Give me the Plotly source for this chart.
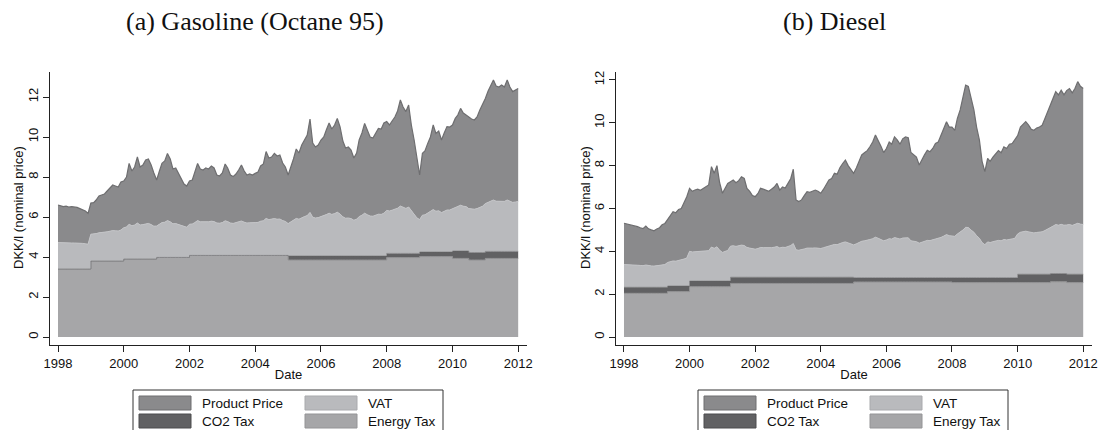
import pandas as pd
import plotly.graph_objects as go

W, H = 1098, 430

# monthly observations, Jan 1998 .. Jan 2012
dates = pd.date_range("1998-01-01", "2012-01-01", freq="MS")

# ---- Gasoline (Octane 95), DKK/l ----
gas_total = [
    6.60, 6.55, 6.52, 6.54, 6.50, 6.52, 6.50, 6.48, 6.42, 6.38, 6.30, 6.18,
    6.70, 6.72, 6.85, 7.05, 7.10, 7.15, 7.30, 7.45, 7.60, 7.55, 7.50, 7.75,
    7.80, 8.00, 8.68, 8.30, 8.50, 9.00, 8.50, 8.60, 8.85, 8.90, 8.60, 8.20,
    7.85, 8.30, 8.68, 8.80, 9.18, 8.90, 8.40, 8.45, 8.20, 7.90, 7.65, 7.55,
    7.80, 7.85, 8.20, 8.68, 8.40, 8.35, 8.45, 8.40, 8.55, 8.45, 8.10, 8.05,
    8.20, 8.65, 8.45, 8.10, 8.02, 8.15, 8.35, 8.60, 8.30, 8.10, 8.15, 8.10,
    8.18, 8.25, 8.55, 8.65, 9.27, 8.95, 9.00, 9.18, 9.05, 9.10, 8.70, 8.50,
    8.10, 8.50, 8.90, 9.40, 9.20, 9.60, 9.85, 10.10, 10.90, 9.70, 9.50, 9.60,
    9.85, 10.00, 10.35, 10.70, 10.40, 10.60, 10.93, 10.50, 9.80, 9.45, 9.50, 9.35,
    8.95, 9.20, 9.85, 10.20, 10.68, 10.30, 10.00, 9.95, 10.20, 10.43, 10.40, 10.70,
    10.77, 10.60, 10.80, 11.00, 11.30, 11.85, 11.50, 11.27, 11.60, 10.60, 9.85, 8.90,
    8.10, 9.18, 9.30, 9.68, 10.00, 10.60, 10.18, 10.30, 9.85, 10.20, 10.52, 10.50,
    10.60, 10.93, 11.10, 11.43, 11.20, 11.10, 11.00, 10.90, 10.85, 11.00, 11.35, 11.60,
    11.93, 12.30, 12.60, 12.85, 12.55, 12.50, 12.60, 12.50, 12.85, 12.50, 12.27, 12.35,
    12.43,
]
# top of the VAT band (taxes + VAT)
gas_vat_top = [
    4.72, 4.71, 4.70, 4.71, 4.70, 4.70, 4.70, 4.70, 4.68, 4.68, 4.66, 4.64,
    5.14, 5.14, 5.17, 5.21, 5.22, 5.23, 5.26, 5.29, 5.32, 5.31, 5.30, 5.35,
    5.46, 5.50, 5.64, 5.56, 5.60, 5.70, 5.60, 5.62, 5.67, 5.68, 5.62, 5.54,
    5.55, 5.64, 5.72, 5.74, 5.82, 5.76, 5.66, 5.67, 5.62, 5.56, 5.51, 5.49,
    5.64, 5.65, 5.72, 5.82, 5.76, 5.75, 5.77, 5.76, 5.79, 5.77, 5.70, 5.69,
    5.72, 5.81, 5.77, 5.70, 5.68, 5.71, 5.75, 5.80, 5.74, 5.70, 5.71, 5.70,
    5.72, 5.73, 5.79, 5.81, 5.93, 5.87, 5.88, 5.92, 5.89, 5.90, 5.82, 5.78,
    5.67, 5.75, 5.83, 5.93, 5.89, 5.97, 6.02, 6.07, 6.23, 5.99, 5.95, 5.97,
    6.02, 6.05, 6.12, 6.19, 6.13, 6.17, 6.24, 6.15, 6.01, 5.94, 5.95, 5.92,
    5.84, 5.89, 6.02, 6.09, 6.19, 6.11, 6.05, 6.04, 6.09, 6.14, 6.13, 6.19,
    6.33, 6.30, 6.34, 6.38, 6.44, 6.55, 6.48, 6.43, 6.50, 6.30, 6.15, 5.96,
    5.87, 6.09, 6.11, 6.19, 6.25, 6.37, 6.29, 6.31, 6.22, 6.29, 6.35, 6.35,
    6.42, 6.49, 6.52, 6.59, 6.54, 6.52, 6.42, 6.40, 6.39, 6.42, 6.49, 6.54,
    6.67, 6.74, 6.80, 6.85, 6.79, 6.78, 6.80, 6.78, 6.85, 6.78, 6.73, 6.75,
    6.77,
]
# tax levels change in steps: (from month, level)
gas_energy_steps = [("1998-01", 3.40), ("1999-01", 3.80), ("2000-01", 3.90), ("2001-01", 3.98),
                    ("2002-01", 4.08), ("2005-01", 3.85), ("2008-01", 3.97), ("2009-01", 4.02),
                    ("2010-01", 3.93), ("2010-07", 3.85), ("2011-01", 3.93)]
gas_co2_top_steps = [("1998-01", 3.40), ("1999-01", 3.80), ("2000-01", 3.90), ("2001-01", 3.98),
                     ("2002-01", 4.08), ("2005-01", 4.05), ("2008-01", 4.18), ("2009-01", 4.25),
                     ("2010-01", 4.30), ("2010-07", 4.22), ("2011-01", 4.28)]

# ---- Diesel, DKK/l ----
dsl_total = [
    5.31, 5.28, 5.25, 5.22, 5.20, 5.15, 5.10, 5.06, 5.18, 5.05, 5.00, 4.96,
    5.04, 5.10, 5.24, 5.30, 5.48, 5.65, 5.85, 5.80, 5.95, 6.00, 6.30, 6.55,
    6.94, 6.80, 6.86, 6.90, 6.85, 6.94, 7.00, 7.10, 7.95, 7.64, 8.00, 7.20,
    6.71, 6.95, 7.17, 7.25, 7.33, 7.20, 7.30, 7.48, 7.40, 6.94, 6.80, 6.60,
    6.55, 6.70, 6.94, 6.90, 6.85, 6.80, 6.90, 7.00, 7.17, 6.86, 7.00, 6.95,
    7.17, 7.40, 7.83, 6.40, 6.32, 6.40, 6.60, 6.78, 6.75, 6.80, 6.86, 6.80,
    6.71, 6.90, 7.10, 7.33, 7.40, 7.64, 7.60, 7.90, 8.10, 8.26, 8.00, 7.80,
    7.64, 7.90, 8.20, 8.50, 8.60, 8.70, 8.88, 9.10, 9.43, 9.20, 8.90, 8.61,
    8.80, 9.10, 9.00, 9.34, 9.20, 9.00, 9.25, 9.34, 9.30, 8.61, 8.50, 8.40,
    8.03, 8.30, 8.50, 8.72, 8.65, 8.80, 9.03, 9.10, 9.40, 9.70, 10.05, 9.80,
    9.80, 9.65, 10.20, 10.60, 11.10, 11.76, 11.70, 11.10, 10.60, 9.80, 9.20, 8.20,
    7.72, 8.34, 8.20, 8.40, 8.56, 8.70, 8.60, 8.88, 8.80, 9.00, 9.03, 9.20,
    9.40, 9.80, 9.90, 10.05, 9.90, 9.70, 9.65, 9.75, 9.80, 9.88, 10.20, 10.50,
    10.83, 11.10, 11.45, 11.30, 11.52, 11.30, 11.50, 11.60, 11.40, 11.60, 11.92, 11.70,
    11.60,
]
dsl_vat_top = [
    3.38, 3.38, 3.37, 3.36, 3.36, 3.35, 3.34, 3.33, 3.36, 3.33, 3.32, 3.31,
    3.33, 3.34, 3.37, 3.38, 3.48, 3.51, 3.55, 3.54, 3.57, 3.58, 3.64, 3.69,
    4.00, 3.97, 3.98, 3.99, 3.98, 4.00, 4.01, 4.03, 4.20, 4.14, 4.21, 4.05,
    3.95, 4.00, 4.04, 4.24, 4.26, 4.23, 4.25, 4.29, 4.27, 4.18, 4.15, 4.11,
    4.10, 4.13, 4.18, 4.17, 4.16, 4.15, 4.17, 4.19, 4.22, 4.16, 4.19, 4.18,
    4.22, 4.27, 4.36, 4.07, 4.05, 4.07, 4.11, 4.15, 4.14, 4.15, 4.16, 4.15,
    4.13, 4.17, 4.21, 4.26, 4.27, 4.32, 4.31, 4.37, 4.41, 4.44, 4.39, 4.35,
    4.30, 4.35, 4.41, 4.47, 4.49, 4.51, 4.55, 4.59, 4.66, 4.61, 4.55, 4.49,
    4.53, 4.59, 4.57, 4.64, 4.61, 4.57, 4.62, 4.64, 4.63, 4.49, 4.47, 4.45,
    4.38, 4.43, 4.47, 4.51, 4.50, 4.53, 4.58, 4.59, 4.65, 4.71, 4.78, 4.73,
    4.73, 4.70, 4.81, 4.89, 4.99, 5.12, 5.11, 4.99, 4.89, 4.73, 4.61, 4.41,
    4.31, 4.44, 4.41, 4.45, 4.48, 4.51, 4.49, 4.55, 4.53, 4.57, 4.58, 4.61,
    4.81, 4.89, 4.91, 4.94, 4.91, 4.87, 4.86, 4.88, 4.89, 4.91, 4.97, 5.03,
    5.13, 5.18, 5.25, 5.22, 5.26, 5.22, 5.23, 5.25, 5.21, 5.25, 5.31, 5.27,
    5.25,
]
dsl_energy_steps = [("1998-01", 2.04), ("1999-05", 2.12), ("2000-01", 2.35), ("2001-04", 2.50),
                    ("2005-01", 2.57), ("2008-01", 2.54), ("2011-01", 2.58), ("2011-07", 2.54)]
dsl_co2_top_steps = [("1998-01", 2.32), ("1999-05", 2.38), ("2000-01", 2.61), ("2001-04", 2.79),
                     ("2005-01", 2.77), ("2010-01", 2.93), ("2011-01", 2.96), ("2011-07", 2.93)]

labels = ["Product Price", "VAT", "CO2 Tax", "Energy Tax"]
col_price, col_vat, col_co2, col_energy = "#8a8a8c", "#b9babd", "#616163", "#a6a6a8"
edge_price, edge_vat, edge_co2, edge_energy = "#6e6e70", "#a9aaad", "#4c4c4e", "#949496"


def expand(steps):
    out = []
    for d in dates:
        v = steps[0][1]
        for s, lvl in steps:
            if pd.Timestamp(s + "-01") <= d:
                v = lvl
        out.append(v)
    return out


def px_x(p):
    return p / W


def px_y(p):
    return 1 - p / H


fig = go.Figure()

panels = [
    ("x", "y", gas_energy_steps, gas_co2_top_steps, gas_vat_top, gas_total),
    ("x2", "y2", dsl_energy_steps, dsl_co2_top_steps, dsl_vat_top, dsl_total),
]
for xa, ya, en, co2, vat, tot in panels:
    fig.add_trace(go.Scatter(x=dates, y=expand(en), mode="lines", line=dict(color="#909092", width=1, shape="hv"),
                             fill="tozeroy", fillcolor=col_energy, xaxis=xa, yaxis=ya, showlegend=False))
    fig.add_trace(go.Scatter(x=dates, y=expand(co2), mode="lines", line=dict(color=col_co2, width=0.5, shape="hv"),
                             fill="tonexty", fillcolor=col_co2, xaxis=xa, yaxis=ya, showlegend=False))
    fig.add_trace(go.Scatter(x=dates, y=vat, mode="lines", line=dict(color="#c4c5c8", width=1),
                             fill="tonexty", fillcolor=col_vat, xaxis=xa, yaxis=ya, showlegend=False))
    fig.add_trace(go.Scatter(x=dates, y=tot, mode="lines", line=dict(color=edge_price, width=1.2),
                             fill="tonexty", fillcolor=col_price, xaxis=xa, yaxis=ya, showlegend=False))

font_sans = "Liberation Sans, Arial, sans-serif"
xcommon = dict(type="date", range=["1997-10-04", "2012-04-08"], tick0="1998-01-01", dtick="M24",
               tickformat="%Y", ticks="outside", ticklen=6, tickcolor="#222", showline=True,
               linecolor="#222", linewidth=1, showgrid=False, zeroline=False, automargin=False,
               tickfont=dict(family=font_sans, size=13, color="#111"),
               title=dict(text="Date", font=dict(family=font_sans, size=13, color="#111"), standoff=0))
ycommon = dict(ticks="outside", ticklen=6, tickcolor="#222", showline=True, linecolor="#222", linewidth=1,
               showgrid=False, zeroline=False, tickangle=-90, dtick=2, tick0=0, automargin=False,
               tickfont=dict(family=font_sans, size=13, color="#111"))

fig.update_layout(
    width=W, height=H, margin=dict(l=0, r=0, t=0, b=0, autoexpand=False),
    paper_bgcolor="white", plot_bgcolor="white", showlegend=False,
    xaxis=dict(xcommon, domain=[px_x(50), px_x(527)], anchor="y"),
    yaxis=dict(ycommon, domain=[px_y(345), px_y(72)], range=[-0.4, 13.25], anchor="x"),
    xaxis2=dict(xcommon, domain=[px_x(616), px_x(1092)], anchor="y2"),
    yaxis2=dict(ycommon, domain=[px_y(345), px_y(72)], range=[-0.373, 12.37], anchor="x2"),
)

# y axis titles
for cx in [18, 585]:
    fig.add_annotation(text="DKK/l (nominal price)", x=px_x(cx), y=px_y(208), xref="paper", yref="paper",
                       showarrow=False, textangle=-90, xanchor="center", yanchor="middle",
                       font=dict(family=font_sans, size=13, color="#111"))

font_serif = "Liberation Serif, Times New Roman, serif"
for txt, cx in [("(a) Gasoline (Octane 95)", 255), ("(b) Diesel", 834)]:
    fig.add_annotation(text=txt, x=px_x(cx), y=px_y(21), xref="paper", yref="paper",
                       showarrow=False, xanchor="center", yanchor="middle",
                       font=dict(family=font_serif, size=26, color="#111"))

# legends drawn below each panel
swatches = [(labels[0], col_price, edge_price, 0, 0), (labels[1], col_vat, edge_vat, 1, 0),
            (labels[2], col_co2, edge_co2, 0, 1), (labels[3], col_energy, edge_energy, 1, 1)]
for bx in [133, 698]:
    fig.add_shape(type="rect", xref="paper", yref="paper", x0=px_x(bx), x1=px_x(bx + 310),
                  y0=px_y(390), y1=px_y(445), line=dict(color="#333", width=1), fillcolor="white", layer="below")
    for name, fc, ec, col, row in swatches:
        sx = bx + (6 if col == 0 else 172)
        sy = 396 + row * 18
        fig.add_shape(type="rect", xref="paper", yref="paper", x0=px_x(sx), x1=px_x(sx + 52),
                      y0=px_y(sy), y1=px_y(sy + 14), line=dict(color=ec, width=1), fillcolor=fc)
        fig.add_annotation(text=name, x=px_x(sx + 61), y=px_y(sy + 7), xref="paper", yref="paper",
                           showarrow=False, xanchor="left", yanchor="middle",
                           font=dict(family=font_sans, size=13.5, color="#111"))

# the page body has a default margin; drop it so the figure sits at the window corner
fig.write_html("out.html", config={"displayModeBar": False},
               post_script="document.body.style.margin='0';")
